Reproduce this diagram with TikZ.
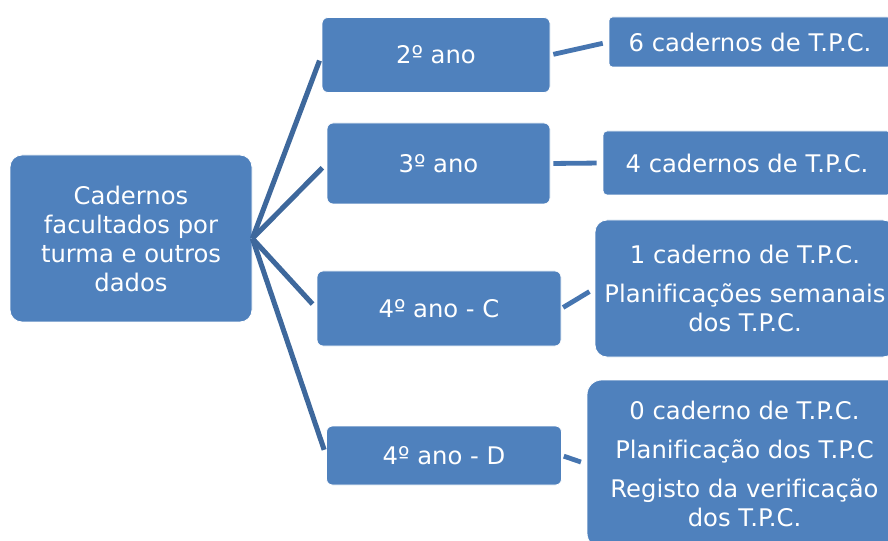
\documentclass[tikz,border=0pt]{standalone}
\usepackage{fontspec}
\setmainfont{DejaVu Sans}[Ligatures=NoCommon]
\usetikzlibrary{positioning}

\definecolor{boxblue}{RGB}{79,129,189}
\definecolor{linkdark}{RGB}{62,104,156}
\definecolor{linklight}{RGB}{70,117,176}

\tikzset{
  box/.style={fill=boxblue, draw=white, line width=0.6pt, text=white, align=center,
    rounded corners=4.5pt, inner sep=2pt,
    font=\fontsize{18.2pt}{21.75pt}\selectfont},
  link/.style={draw=linkdark, line width=3.8pt},
  sublink/.style={draw=linklight, line width=3.6pt}
}

\begin{document}
\begin{tikzpicture}[x=0.75pt,y=-0.75pt]
\useasboundingbox (0,0) rectangle (888,541);
\clip (0,0) rectangle (888,541);

\node[box, rounded corners=9pt, minimum width=181.5pt, minimum height=125.25pt] (root) at (131,238.5)
  {Cadernos\\facultados por\\turma e outros\\dados};

\node[box, minimum width=171pt, minimum height=56.25pt] (y2) at (436,55) {2º ano};
\node[box, minimum width=167.25pt, minimum height=60.75pt] (y3) at (438.5,163.5) {3º ano};
\node[box, minimum width=183pt, minimum height=56.25pt] (y4c) at (439,308.5) {4º ano - C};
\node[box, minimum width=176.25pt, minimum height=44.25pt] (y4d) at (444,455.5) {4º ano - D};

\node[box, rounded corners=2.5pt, minimum width=211.5pt, minimum height=37.5pt] (n2) at (750,42)
  {6 cadernos de T.P.C.};
\node[box, rounded corners=3pt, minimum width=216pt, minimum height=48pt] (n3) at (747,163)
  {4 cadernos de T.P.C.};
\node[box, rounded corners=9pt, minimum width=225pt, minimum height=102.75pt] (n4c) at (745,288.5)
  {1 caderno de T.P.C.\\[7.5pt]Planificações semanais\\dos T.P.C.};
\node[box, rounded corners=11pt, minimum width=236.25pt, minimum height=126pt] (n4d) at (744.5,464)
  {0 caderno de T.P.C.\\[7.5pt]Planificação dos T.P.C\\[7.5pt]Registo da verificação\\dos T.P.C.};

% root to years
\draw[link, shorten >=4.5pt] (root.east) -- (y2.west);
\draw[link, shorten >=4.5pt] (root.east) -- (y3.west);
\draw[link, shorten >=4.5pt] (root.east) -- (y4c.west);
\draw[link, shorten >=4.5pt] (root.east) -- (y4d.west);

% years to notebooks
\draw[sublink, shorten <=2.25pt, shorten >=4.5pt] (y2.east) -- (n2.west);
\draw[sublink, shorten <=2.25pt, shorten >=4.5pt] (y3.east) -- (n3.west);
\draw[sublink, shorten <=1.5pt, shorten >=4.5pt] (y4c.east) -- (n4c.west);
\draw[sublink, shorten <=1.5pt, shorten >=4.5pt] (y4d.east) -- (n4d.west);

\end{tikzpicture}
\end{document}
